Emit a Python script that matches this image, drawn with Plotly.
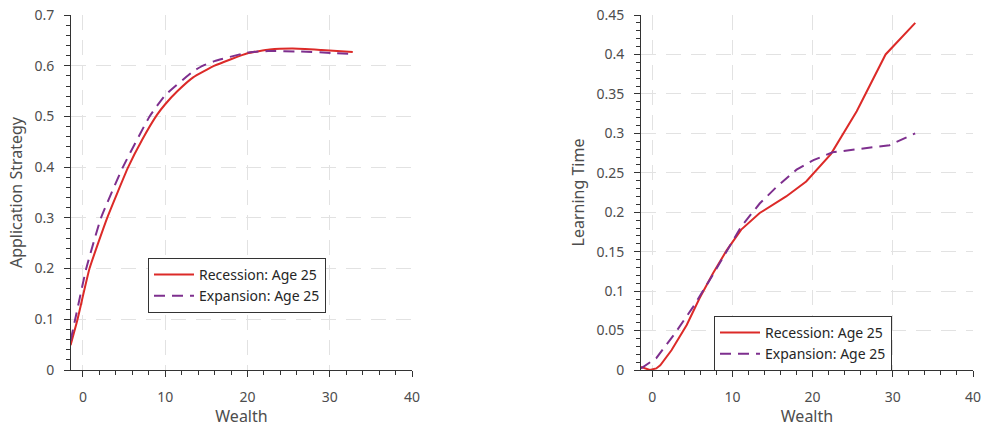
import plotly.graph_objects as go

# Left panel: Application Strategy
app_rec_x = [-1.5, -0.7, 0.8, 2.95, 5.5, 7.2, 9.0, 10.0, 11.5, 13.4, 16.0, 20.0, 22.7, 25.5, 29.0, 32.8]
app_rec_y = [0.049, 0.097, 0.2, 0.3, 0.4, 0.454, 0.503, 0.524, 0.55, 0.577, 0.6, 0.6245, 0.632, 0.634, 0.631, 0.627]
app_exp_x = [-1.5, -0.94, 0.4, 2.2, 4.86, 8.1, 10.0, 13.4, 14.6, 16.0, 20.0, 22.5, 26.4, 30.5, 32.8]
app_exp_y = [0.058, 0.1, 0.2, 0.3, 0.4, 0.5, 0.542, 0.589, 0.6, 0.609, 0.626, 0.629, 0.628, 0.625, 0.623]

# Right panel: Learning Time
lt_rec_x = [-1.4, -0.3, 0.5, 1.0, 2.4, 4.3, 5.9, 7.6, 9.3, 11.1, 13.4, 16.7, 19.2, 22.3, 25.5, 29.1, 32.8]
lt_rec_y = [0.004, 0.0, 0.002, 0.006, 0.025, 0.057, 0.091, 0.123, 0.152, 0.178, 0.199, 0.220, 0.239, 0.274, 0.328, 0.400, 0.440]
lt_exp_x = [-1.4, 0.5, 2.8, 5.1, 7.4, 9.3, 11.1, 13.4, 15.5, 18.0, 20.1, 22.5, 24.2, 29.6, 32.8]
lt_exp_y = [0.002, 0.015, 0.046, 0.080, 0.118, 0.150, 0.182, 0.211, 0.232, 0.254, 0.266, 0.276, 0.278, 0.285, 0.300]

names = ["Recession: Age 25", "Expansion: Age 25"]
x_ticks = [0, 10, 20, 30, 40]

RED = "#dc2a28"
PURPLE = "#7e2f8e"
TXT = "#4d4d4d"
AX = "#333333"
GRID = "#e2e2e2"
FONT = "Noto Sans"
DASH = "11px,7px"

fig = go.Figure()
fig.add_trace(go.Scatter(x=app_rec_x, y=app_rec_y, mode="lines", name=names[0],
                         line=dict(color=RED, width=2, shape="spline", smoothing=0.4),
                         xaxis="x", yaxis="y", legend="legend"))
fig.add_trace(go.Scatter(x=app_exp_x, y=app_exp_y, mode="lines", name=names[1],
                         line=dict(color=PURPLE, width=2, dash=DASH, shape="spline", smoothing=0.4),
                         xaxis="x", yaxis="y", legend="legend"))
fig.add_trace(go.Scatter(x=lt_rec_x, y=lt_rec_y, mode="lines", name=names[0],
                         line=dict(color=RED, width=2), xaxis="x2", yaxis="y2", legend="legend2"))
fig.add_trace(go.Scatter(x=lt_exp_x, y=lt_exp_y, mode="lines", name=names[1],
                         line=dict(color=PURPLE, width=2, dash=DASH), xaxis="x2", yaxis="y2", legend="legend2"))

ydom = [1 - 370 / 427, 1 - 15 / 427]

def xaxis(dom, rng, anchor):
    return dict(domain=dom, range=rng, anchor=anchor, tickvals=x_ticks,
                showline=True, linecolor=AX, linewidth=1, ticks="outside", ticklen=6,
                tickcolor=AX, showgrid=True, gridcolor=GRID, griddash="15px,10px", gridwidth=1,
                zeroline=False, tickfont=dict(size=14, color=TXT, family=FONT),
                ticklabelstandoff=8,
                minor=dict(dtick=2, ticks="outside", ticklen=4, tickcolor=AX, showgrid=False),
                title=dict(text="Wealth", font=dict(size=16, color=TXT, family=FONT), standoff=11),
                automargin=False)

def yaxis(dom, rng, dtick, mdtick, title, anchor):
    return dict(domain=dom, range=rng, anchor=anchor, dtick=dtick,
                showline=True, linecolor=AX, linewidth=1, ticks="outside", ticklen=6,
                tickcolor=AX, showgrid=True, gridcolor=GRID, griddash="15px,10px", gridwidth=1,
                zeroline=False, tickfont=dict(size=14, color=TXT, family=FONT),
                ticklabelstandoff=7,
                minor=dict(dtick=mdtick, ticks="outside", ticklen=4, tickcolor=AX, showgrid=False),
                title=dict(text=title, font=dict(size=16, color=TXT, family=FONT), standoff=7),
                automargin=False)

legend_common = dict(bgcolor="white", bordercolor="#333333", borderwidth=1,
                     font=dict(size=14, color="#262626", family=FONT),
                     xanchor="left", yanchor="top", tracegroupgap=0, itemwidth=40)

fig.update_layout(
    width=982, height=427,
    margin=dict(l=0, r=0, t=0, b=0),
    paper_bgcolor="white", plot_bgcolor="white",
    font=dict(family=FONT, color=TXT),
    xaxis=xaxis([71 / 982, 412 / 982], [-1.45, 40], "y"),
    yaxis=yaxis(ydom, [0, 0.7], 0.1, 0.02, "Application Strategy", "x"),
    xaxis2=xaxis([641 / 982, 973 / 982], [-1.4, 40], "y2"),
    yaxis2=yaxis(ydom, [0, 0.45], 0.05, 0.01, "Learning Time", "x2"),
    legend=dict(x=148 / 982, y=1 - 258 / 427, **legend_common),
    legend2=dict(x=714 / 982, y=1 - 316 / 427, **legend_common),
)

fig.write_html("out.html")
